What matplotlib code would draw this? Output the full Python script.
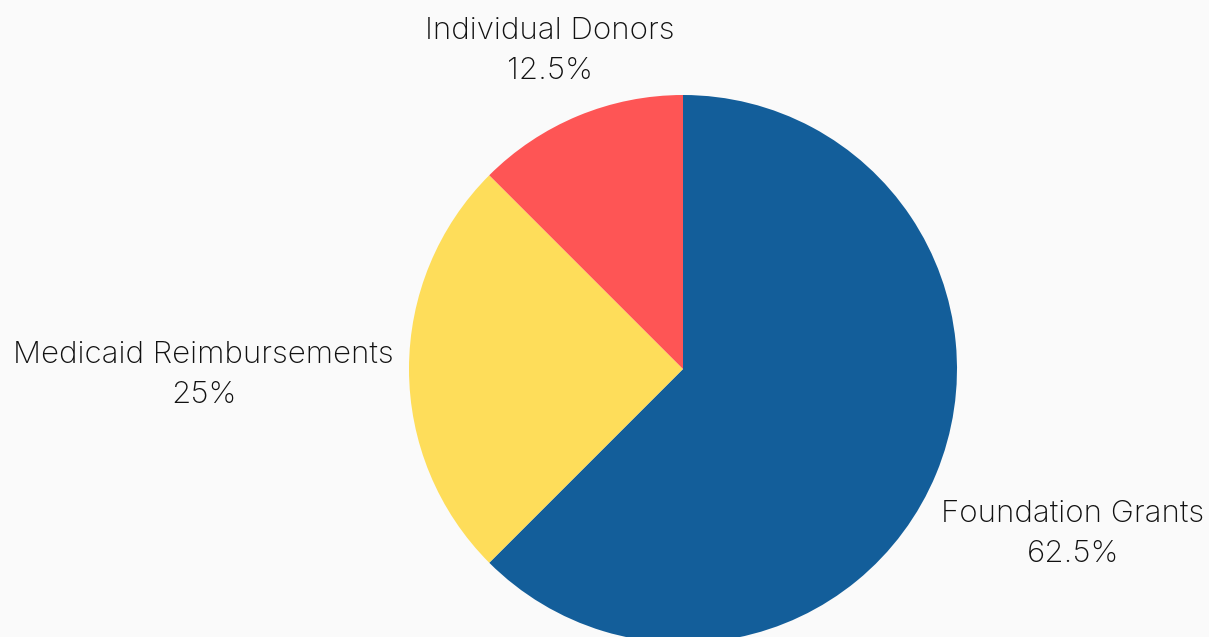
import matplotlib
matplotlib.use("Agg")
import matplotlib.pyplot as plt
import numpy as np

labels = ["Foundation Grants", "Medicaid Reimbursements", "Individual Donors"]
shares = [62.5, 25, 12.5]
pct_text = ["62.5%", "25%", "12.5%"]
colors = ["#135e9a", "#fedd5a", "#fe5555"]

plt.rcParams['font.family'] = ['Inter', 'DejaVu Sans']

fig = plt.figure(figsize=(12.09, 6.37), dpi=100)
fig.patch.set_facecolor("#fafafa")
ax = fig.add_axes([0, 0, 1, 1])
ax.set_facecolor("#fafafa")

wedges, _ = ax.pie(shares, colors=colors, startangle=90, counterclock=False,
                   radius=1.0, center=(0, 0))

# label distance per slice (in radii), small vertical nudge
dists = [1.54, 1.75, 1.27]
nudge = [-0.011, -0.02, -0.012]
for w, lab, pt, d, n in zip(wedges, labels, pct_text, dists, nudge):
    ang = np.deg2rad((w.theta1 + w.theta2) / 2)
    x, y = d * np.cos(ang), d * np.sin(ang) + n
    ax.text(x, y, lab + "\n" + pt, ha="center", va="center", fontsize=22.5,
            fontweight="light", color="#111111", linespacing=1.55)

# map so that center sits at (683, 369) px, radius 274 px
W, H, R = 1209, 637, 274
cx, cy = 683, 369
ax.set_aspect("auto")
ax.set_xlim(-cx / R, (W - cx) / R)
ax.set_ylim((cy - H) / R, cy / R)
ax.axis("off")

fig.savefig("out.png", dpi=100, facecolor=fig.get_facecolor())
